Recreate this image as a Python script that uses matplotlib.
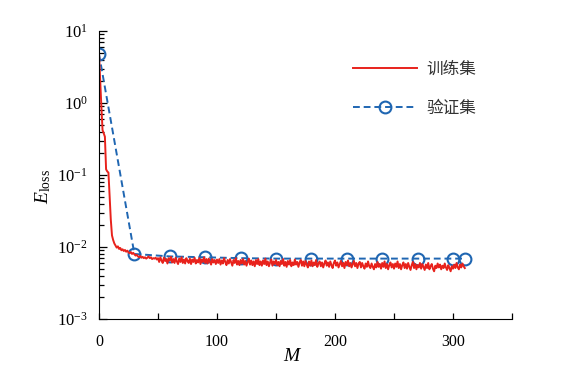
import matplotlib
matplotlib.use("Agg")
import matplotlib.pyplot as plt
from matplotlib.ticker import LogLocator, MultipleLocator, NullFormatter
import numpy as np

plt.rcParams['font.family'] = ['Liberation Serif', 'DejaVu Serif']
plt.rcParams['mathtext.fontset'] = 'custom'
plt.rcParams['mathtext.rm'] = 'Liberation Serif'
plt.rcParams['mathtext.it'] = 'Liberation Serif:italic'

# loss d'entrainement (une valeur par iteration, 0..310)
train_loss = [
    4.8, 2.0, 0.9, 0.42, 0.38, 0.34, 0.12, 0.112, 0.108, 0.05, 0.024, 0.0145, 0.0125,
    0.0112, 0.0105, 0.0098, 0.0102, 0.0094, 0.0097, 0.0090, 0.0093, 0.0088, 0.0091,
    0.0086, 0.0089, 0.0084, 0.0082, 0.0085, 0.0080, 0.0083,
    0.0079, 0.0076, 0.0078, 0.0074, 0.0072, 0.0075, 0.0071, 0.0073, 0.0070, 0.0072,
    0.0069, 0.0071, 0.0074, 0.0070, 0.0072, 0.0068, 0.0070, 0.0069, 0.0071, 0.0067,
    0.0070, 0.0062, 0.0072, 0.0065, 0.0060, 0.0071, 0.0064, 0.0068, 0.0059, 0.0070,
    0.0065, 0.0073, 0.0061, 0.0068, 0.0060, 0.0071, 0.0063, 0.0058, 0.0069, 0.0062,
    0.0072, 0.0060, 0.0067, 0.0059, 0.0070, 0.0064, 0.0060, 0.0069, 0.0058, 0.0067,
    0.0062, 0.0071, 0.0059, 0.0066, 0.0061, 0.0070, 0.0058, 0.0067, 0.0062, 0.0072,
    0.0060, 0.0068, 0.0059, 0.0069, 0.0063, 0.0057, 0.0068, 0.0061, 0.0066, 0.0058,
    0.0067, 0.0060, 0.0068, 0.0057, 0.0065, 0.0059, 0.0070, 0.0062, 0.0056, 0.0066,
    0.0059, 0.0068, 0.0061, 0.0055, 0.0066, 0.0060, 0.0070, 0.0057, 0.0064, 0.0056,
    0.0066, 0.0059, 0.0068, 0.0057, 0.0064, 0.0055, 0.0062, 0.0069, 0.0057, 0.0065,
    0.0056, 0.0063, 0.0054, 0.0066, 0.0058, 0.0068, 0.0056, 0.0063, 0.0055, 0.0065,
    0.0058, 0.0069, 0.0056, 0.0063, 0.0054, 0.0061, 0.0067, 0.0055, 0.0063, 0.0058,
    0.0066, 0.0056, 0.0062, 0.0054, 0.0064, 0.0058, 0.0068, 0.0055, 0.0062, 0.0053,
    0.0064, 0.0057, 0.0066, 0.0054, 0.0061, 0.0056, 0.0067, 0.0057, 0.0062, 0.0053,
    0.0061, 0.0066, 0.0055, 0.0063, 0.0054, 0.0064, 0.0057, 0.0052, 0.0063, 0.0055,
    0.0065, 0.0054, 0.0061, 0.0056, 0.0066, 0.0053, 0.0059, 0.0063, 0.0054, 0.0061,
    0.0052, 0.0059, 0.0065, 0.0055, 0.0061, 0.0053, 0.0063, 0.0056, 0.0051, 0.0060,
    0.0065, 0.0055, 0.0061, 0.0052, 0.0058, 0.0064, 0.0054, 0.0060, 0.0051, 0.0062,
    0.0056, 0.0065, 0.0054, 0.0060, 0.0052, 0.0058, 0.0064, 0.0054, 0.0060, 0.0051,
    0.0059, 0.0062, 0.0052, 0.0060, 0.0054, 0.0050, 0.0059, 0.0053, 0.0063, 0.0054,
    0.0051, 0.0059, 0.0053, 0.0049, 0.0058, 0.0052, 0.0062, 0.0053, 0.0058, 0.0050,
    0.0060, 0.0053, 0.0063, 0.0051, 0.0058, 0.0049, 0.0056, 0.0061, 0.0052, 0.0058,
    0.0050, 0.0059, 0.0053, 0.0063, 0.0051, 0.0058, 0.0049, 0.0056, 0.0061, 0.0051,
    0.0058, 0.0050, 0.0060, 0.0053, 0.0048, 0.0056, 0.0062, 0.0051, 0.0058, 0.0049,
    0.0056, 0.0052, 0.0060, 0.0050, 0.0058, 0.0053, 0.0048, 0.0057, 0.0051, 0.0060,
    0.0049, 0.0054, 0.0058, 0.0050, 0.0046, 0.0055, 0.0051, 0.0059, 0.0052, 0.0057,
    0.0049, 0.0055, 0.0051, 0.0059, 0.0052, 0.0048, 0.0056, 0.0051, 0.0046, 0.0054,
    0.0050, 0.0057, 0.0051, 0.0060, 0.0052, 0.0049, 0.0057, 0.0052, 0.0059, 0.0054, 0.0051,
]
train_M = list(range(len(train_loss)))

# loss de validation
val_M = [0, 30, 60, 90, 120, 150, 180, 210, 240, 270, 300, 310]
val_loss = [4.8, 0.0080, 0.0074, 0.0072, 0.0070, 0.0069, 0.0069, 0.0069, 0.0069, 0.0069, 0.0069, 0.0069]

fig = plt.figure(figsize=(5.77, 3.83), dpi=100)
ax = fig.add_axes([99/577, 1 - 319/383, 413/577, 288/383])

l_val, = ax.plot(val_M, val_loss, color="#1f66b2", lw=1.4, ls=(0, (3.5, 2)),
                 marker="o", ms=8.5, mfc="none", mew=1.5, label="验证集")
l_train, = ax.plot(train_M, train_loss, color="#e8221c", lw=1.4, label="训练集")

ax.set_yscale("log")
ax.set_ylim(1e-3, 1e1)
ax.set_xlim(0, 350)
ax.xaxis.set_major_locator(MultipleLocator(100))
ax.xaxis.set_minor_locator(MultipleLocator(50))
ax.yaxis.set_minor_locator(LogLocator(base=10, subs=np.arange(2, 10), numticks=20))
ax.yaxis.set_minor_formatter(NullFormatter())

for s in ["top", "right"]:
    ax.spines[s].set_visible(False)
ax.tick_params(which="both", direction="in", width=0.9)
ax.tick_params(axis="y", which="major", length=6, pad=8, labelsize=12)
ax.tick_params(axis="y", which="minor", length=3.5)
ax.tick_params(axis="x", which="both", length=4)
ax.tick_params(axis="x", which="major", pad=11, labelsize=11.5)

ax.set_xlabel("$M$", fontsize=14)
ax.xaxis.set_label_coords((293 - 99) / 413, -0.10)
ax.set_ylabel(r"$E_{\rm loss}$", fontsize=14)
ax.yaxis.set_label_coords(-0.112, 0.46)

leg = ax.legend(handles=[l_train, l_val], loc="center left", bbox_to_anchor=(0.6, 0.80),
                frameon=False, borderaxespad=0, borderpad=0.4, handlelength=3.8,
                handletextpad=0.55, labelspacing=1.3,
                prop={"family": ["Noto Sans CJK SC", "DejaVu Sans"], "size": 12})
for t in leg.get_texts():
    t.set_color("#333333")

fig.savefig("out.png", dpi=100)
